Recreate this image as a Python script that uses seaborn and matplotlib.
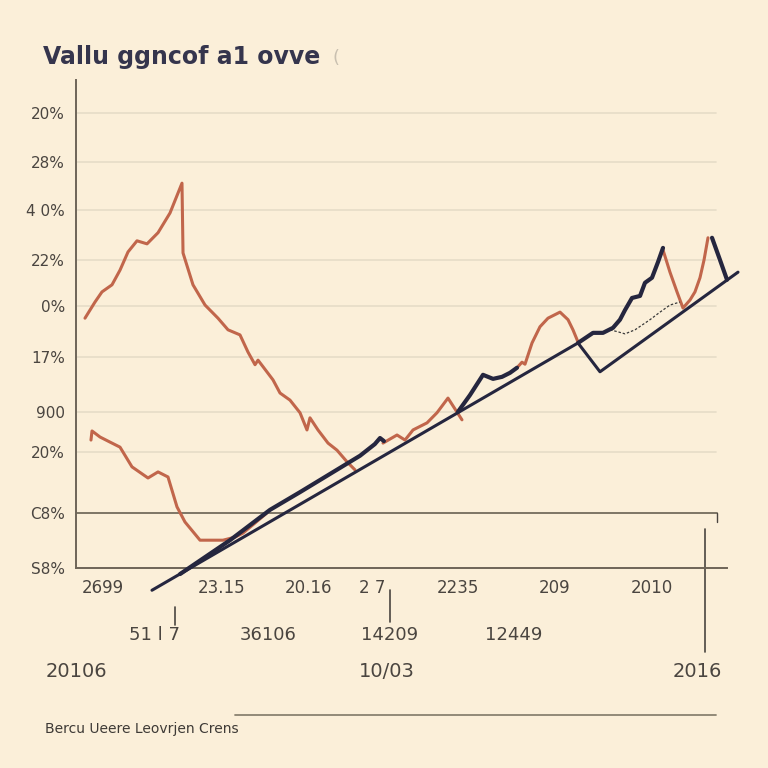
import numpy as np
import matplotlib.pyplot as plt
import seaborn as sns

# values (x: 0-100 across the axis, y: tick units)
ytick_pos = [0, 1.09, 2.29, 3.09, 4.17, 5.18, 6.09, 7.08, 8.03, 9.0]
ytick_lab = ["S8%", "C8%", "20%", "900", "17%", "0%", "22%", "4 0%", "28%", "20%"]

xtick_pos = [4.15, 22.43, 35.64, 45.47, 58.68, 73.58, 88.48]
xtick_lab = ["2699", "23.15", "20.16", "2 7", "2235", "209", "2010"]
row2_pos = [12.1, 29.5, 48.1, 67.2]
row2_lab = ["51 l 7", "36106", "14209", "12449"]
row3_pos = [0.0, 47.8, 95.4]
row3_lab = ["20106", "10/03", "2016"]

# upper orange curve
a_x = [1.38, 2.92, 3.99, 5.53, 6.76, 7.99, 9.37, 10.91, 12.60, 14.44, 16.28, 16.44,
       17.97, 19.82, 21.81, 23.35, 25.19, 26.42, 27.50, 27.96, 28.73, 30.26, 31.34,
       32.87, 34.41, 35.48, 35.94, 37.17, 38.71, 40.09, 41.63, 42.86]
a_y = [4.94, 5.26, 5.46, 5.60, 5.89, 6.25, 6.47, 6.41, 6.63, 7.02, 7.61, 6.23,
       5.60, 5.20, 4.94, 4.71, 4.61, 4.27, 4.02, 4.11, 3.98, 3.72, 3.46,
       3.32, 3.07, 2.73, 2.97, 2.73, 2.47, 2.33, 2.10, 1.94]
# lower orange curve
b_x = [2.30, 2.46, 3.69, 5.22, 6.76, 8.60, 11.06, 12.60, 14.13, 15.51, 16.74,
       19.05, 22.58, 24.42, 25.65, 27.50, 29.34]
b_y = [2.53, 2.71, 2.59, 2.49, 2.39, 2.00, 1.78, 1.90, 1.80, 1.21, 0.91,
       0.55, 0.55, 0.61, 0.69, 0.89, 1.09]
# orange pieces on the right
c1_x = [47.16, 49.31, 50.54, 51.77, 53.92, 55.45, 57.14, 59.29]
c1_y = [2.47, 2.63, 2.53, 2.73, 2.87, 3.07, 3.36, 2.93]
c2_x = [67.74, 68.51, 68.97, 70.05, 71.27, 72.50, 74.35, 75.58, 76.34, 77.11]
c2_y = [3.96, 4.07, 4.03, 4.45, 4.77, 4.94, 5.06, 4.91, 4.71, 4.47]
c3_x = [90.17, 91.24, 92.32, 93.24, 94.32, 95.08, 95.85, 96.47, 97.08]
c3_y = [6.29, 5.85, 5.46, 5.14, 5.30, 5.46, 5.74, 6.09, 6.53]

# navy series, drawn in pieces
d1_x = [15.98, 23.66, 29.80, 34.41, 39.02, 43.63, 45.9, 46.7, 47.3]
d1_y = [-0.12, 0.55, 1.15, 1.50, 1.86, 2.22, 2.45, 2.57, 2.51]
d2_x = [58.68, 60.52, 62.52, 64.06, 65.44, 66.67, 67.74]
d2_y = [3.09, 3.42, 3.82, 3.74, 3.78, 3.86, 3.96]
d3_x = [77.11, 79.42, 80.95, 82.49, 83.56, 84.33, 85.41, 86.64, 87.40, 88.48, 89.40, 90.17]
d3_y = [4.45, 4.65, 4.65, 4.75, 4.91, 5.10, 5.34, 5.38, 5.64, 5.74, 6.05, 6.33]
d4_x = [97.70, 98.93, 100.0]
d4_y = [6.53, 6.09, 5.70]

# straight trend line
e_x = [11.67, 77.11, 80.49, 101.69]
e_y = [-0.44, 4.45, 3.88, 5.85]
# thin dotted line
f_x = [82.03, 83.26, 84.33, 85.87, 88.17, 89.71, 91.24, 92.78]
f_y = [4.71, 4.67, 4.63, 4.71, 4.91, 5.06, 5.20, 5.26]

bg = "#fbefd9"
orange = "#c1664b"
navy = "#25263f"
txt = "#4a4540"

sns.set_theme(style="white")
plt.rcParams["font.family"] = ["DejaVu Sans"]

fig = plt.figure(figsize=(7.68, 7.68), dpi=100, facecolor=bg)
ax = fig.add_axes([76 / 768, 200 / 768, 651 / 768, 488 / 768])
ax.set_facecolor(bg)

for yv in ytick_pos[2:]:
    ax.axhline(yv, xmin=0, xmax=0.983, color="#e6dcc8", lw=1.2, zorder=0)
ax.axhline(ytick_pos[1], xmin=0, xmax=0.985, color="#7d7565", lw=1.4, zorder=1)

for xs, ys in [(a_x, a_y), (b_x, b_y), (c1_x, c1_y), (c2_x, c2_y), (c3_x, c3_y)]:
    sns.lineplot(x=xs, y=ys, sort=False, estimator=None, ax=ax, color=orange,
                 lw=2.2, clip_on=False, zorder=3)
sns.lineplot(x=e_x, y=e_y, sort=False, estimator=None, ax=ax, color=navy,
             lw=2.2, clip_on=False, zorder=4)
for xs, ys in [(d1_x, d1_y), (d2_x, d2_y), (d3_x, d3_y), (d4_x, d4_y)]:
    sns.lineplot(x=xs, y=ys, sort=False, estimator=None, ax=ax, color=navy,
                 lw=3.0, clip_on=False, zorder=4)
sns.lineplot(x=f_x, y=f_y, sort=False, estimator=None, ax=ax, color="#3a3a3a",
             lw=0.9, ls=(0, (2, 1.5)), clip_on=False, zorder=3)

ax.set_xlim(0, 100)
ax.set_ylim(0, 9.65)
ax.set_yticks(ytick_pos)
ax.set_yticklabels(ytick_lab, fontsize=11, color=txt)
ax.set_xticks(xtick_pos)
ax.set_xticklabels(xtick_lab, fontsize=12, color=txt)
ax.tick_params(axis="both", length=0, pad=8)
for s in ["top", "right"]:
    ax.spines[s].set_visible(False)
for s in ["left", "bottom"]:
    ax.spines[s].set_color("#6e6558")
    ax.spines[s].set_linewidth(1.4)

# extra label rows below the axis
tr = ax.get_xaxis_transform()
for xp, lab in zip(row2_pos, row2_lab):
    ax.text(xp, -0.137, lab, transform=tr, ha="center", va="center",
            fontsize=13, color=txt, clip_on=False)
for xp, lab in zip(row3_pos, row3_lab):
    ax.text(xp, -0.213, lab, transform=tr, ha="center", va="center",
            fontsize=14, color=txt, clip_on=False)
ax.plot([15.2, 15.2], [-0.08, -0.117], transform=tr, color=txt, lw=1.2, clip_on=False)
ax.plot([48.2, 48.2], [-0.045, -0.111], transform=tr, color=txt, lw=1.2, clip_on=False)
ax.plot([96.6, 96.6], [0.080, -0.172], transform=tr, color=txt, lw=1.2, clip_on=False)
ax.plot([98.5, 98.5], [0.113, 0.094], transform=tr, color=txt, lw=1.0, clip_on=False)

fig.text(43 / 768, 1 - 57 / 768, "Vallu ggncof a1 ovve", fontsize=17,
         fontweight="semibold", color="#35354d", va="center", ha="left")
fig.text(333 / 768, 1 - 58 / 768, "(", fontsize=13, color="#c9c0b0", va="center")
fig.text(45 / 768, 1 - 729 / 768, "Bercu Ueere Leovrjen Crens", fontsize=10,
         color="#3e3a36", va="center", ha="left")
fig.add_artist(plt.Line2D([235 / 768, 716 / 768], [1 - 715 / 768, 1 - 715 / 768],
                          color="#8a8270", lw=1.3))

fig.savefig("out.png", dpi=100, facecolor=bg)
